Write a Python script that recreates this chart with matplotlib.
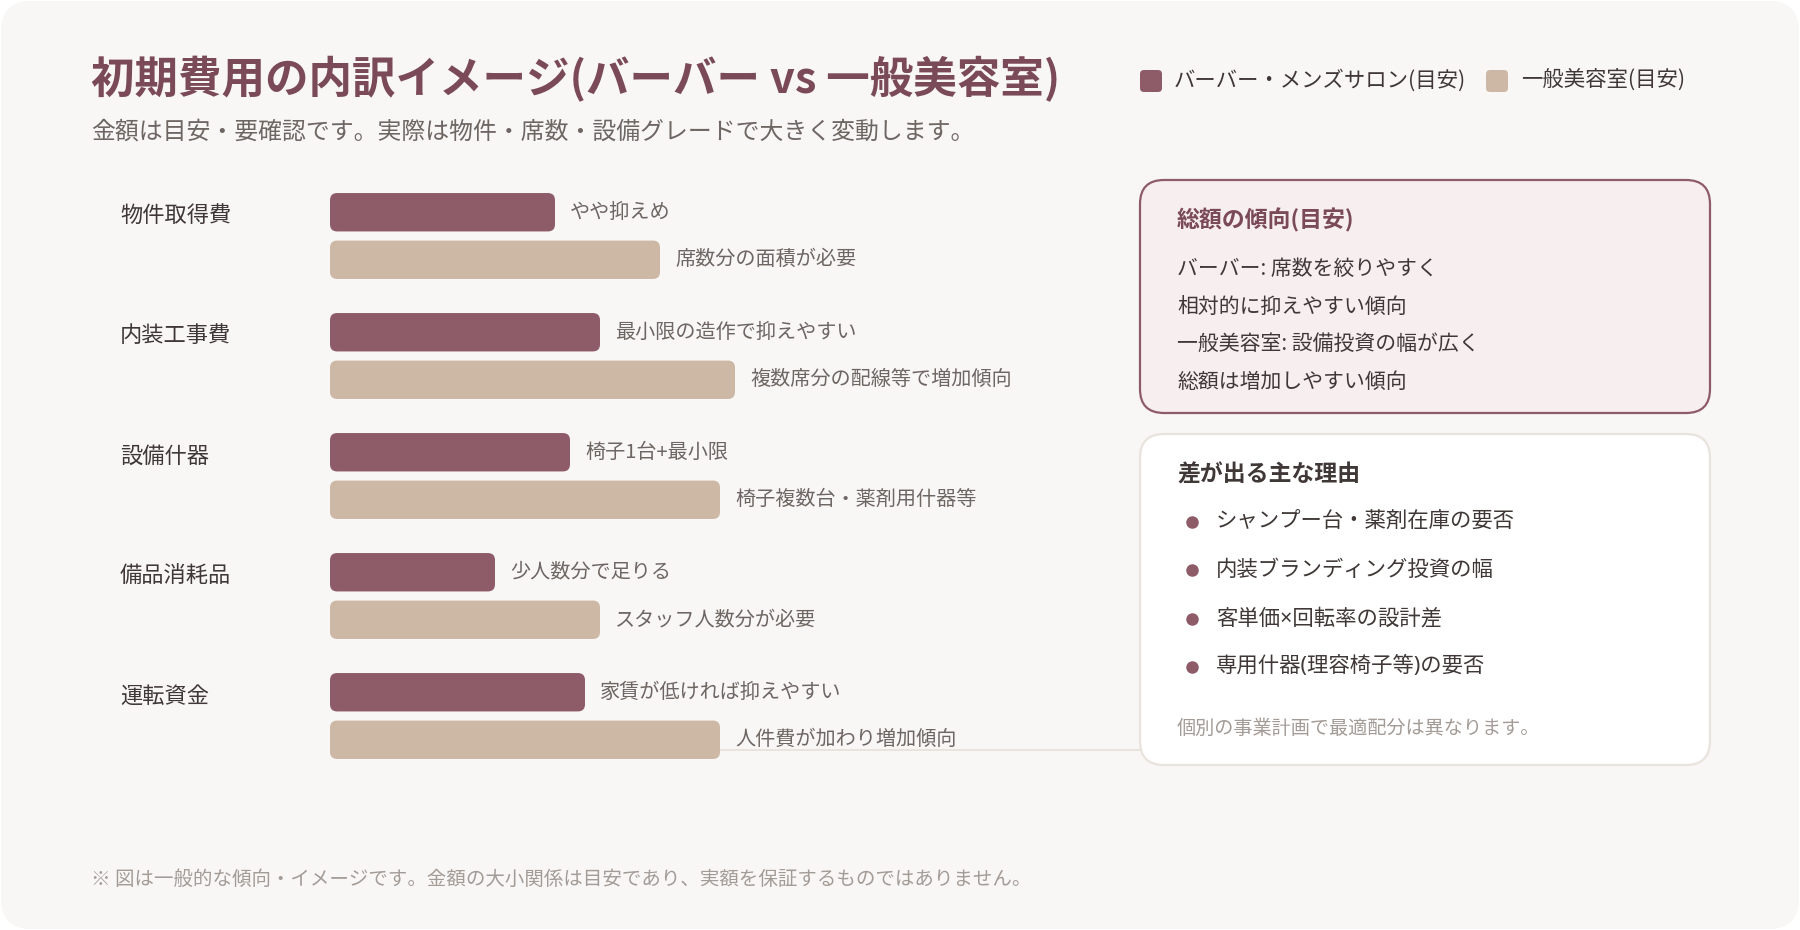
import matplotlib
matplotlib.use("Agg")
import matplotlib.pyplot as plt
from matplotlib.patches import FancyBboxPatch
from matplotlib.lines import Line2D
from matplotlib.transforms import IdentityTransform, blended_transform_factory

plt.rcParams['font.family'] = ['Noto Sans CJK JP', 'DejaVu Sans']

# data
categories = ['物件取得費', '内装工事費', '設備什器', '備品消耗品', '運転資金']
barber = [30, 36, 32, 22, 34]
salon = [44, 54, 52, 36, 52]
barber_notes = ['やや抑えめ', '最小限の造作で抑えやすい', '椅子1台+最小限',
                '少人数分で足りる', '家賃が低ければ抑えやすい']
salon_notes = ['席数分の面積が必要', '複数席分の配線等で増加傾向', '椅子複数台・薬剤用什器等',
               'スタッフ人数分が必要', '人件費が加わり増加傾向']
series = ['バーバー・メンズサロン(目安)', '一般美容室(目安)']

title = '初期費用の内訳イメージ(バーバー vs 一般美容室)'
subtitle = '金額は目安・要確認です。実際は物件・席数・設備グレードで大きく変動します。'
trend_title = '総額の傾向(目安)'
trend_lines = ['バーバー: 席数を絞りやすく', '相対的に抑えやすい傾向',
               '一般美容室: 設備投資の幅が広く', '総額は増加しやすい傾向']
reason_title = '差が出る主な理由'
reasons = ['シャンプー台・薬剤在庫の要否', '内装ブランディング投資の幅',
           '客単価×回転率の設計差', '専用什器(理容椅子等)の要否']
reason_note = '個別の事業計画で最適配分は異なります。'
footnote = '※ 図は一般的な傾向・イメージです。金額の大小関係は目安であり、実額を保証するものではありません。'

c_barber = '#8e5b68'
c_salon = '#cdb8a6'
c_dark = '#3f3836'
c_gray = '#6e6663'
c_light = '#a39b96'
c_title = '#7b4a59'

W, H = 1800, 930
fig = plt.figure(figsize=(18, 9.3), dpi=100)
fig.patch.set_facecolor('white')
px = IdentityTransform()


def fx(x):
    return x / W


def fy(y):
    return 1 - y / H


# card background
fig.add_artist(FancyBboxPatch((1, 1), W - 2, H - 2, boxstyle="round,pad=0,rounding_size=30",
                              transform=px, facecolor='#f8f7f5', edgecolor='none', zorder=-10))

fig.text(fx(91), fy(79), title, fontsize=31.3, fontweight='bold', color=c_title, va='center')
fig.text(fx(91), fy(132), subtitle, fontsize=17.2, color=c_gray, va='center')

# legend
for (x0, tx), name, col in zip([(1140, 1174), (1486, 1521)], series, [c_barber, c_salon]):
    fig.add_artist(FancyBboxPatch((x0, H - 92), 22, 22, boxstyle="round,pad=0,rounding_size=4",
                                  transform=px, facecolor=col, edgecolor='none'))
    fig.text(fx(tx), fy(80), name, fontsize=15.4, color=c_dark, va='center')

# bars: 7.5 px per unit, 120 px per category
ax = fig.add_axes([330 / W, 1 - 776 / H, 750 / W, 600 / H])
ax.set_xlim(0, 100)
ax.set_ylim(4.5, -0.5)
ax.axis('off')

off, bh = 0.198, 0.32
ys = list(range(len(categories)))
b1 = ax.barh([y - off for y in ys], barber, height=bh, left=0)
b2 = ax.barh([y + off for y in ys], salon, height=bh, left=0)
for bars, col in [(b1, c_barber), (b2, c_salon)]:
    for r in bars:
        r.set_visible(False)
        ax.add_patch(FancyBboxPatch((r.get_x(), r.get_y()), r.get_width(), r.get_height(),
                                    boxstyle="round,pad=0,rounding_size=0.95",
                                    mutation_aspect=7.5 / 120, facecolor=col, edgecolor='none'))

for y, v, note in zip(ys, barber, barber_notes):
    ax.annotate(note, (v, y - off), xytext=(15, 0), textcoords='offset pixels',
                fontsize=14.5, color=c_gray, va='center')
for y, v, note in zip(ys, salon, salon_notes):
    ax.annotate(note, (v, y + off), xytext=(15, 0), textcoords='offset pixels',
                fontsize=14.5, color=c_gray, va='center')

tr = blended_transform_factory(fig.transFigure, ax.transData)
for y, cat in zip(ys, categories):
    ax.text(fx(120), y - off + 0.03, cat, transform=tr, fontsize=16, color=c_dark, va='center')

# connector from last bar to the reasons box
x_end, y_end = ax.transData.transform((salon[-1], ys[-1] + off))
fig.add_artist(Line2D([x_end, 1140], [H - 750, H - 750], transform=px, color='#e6dfd9', lw=1.2, zorder=-5))

# trend box
fig.add_artist(FancyBboxPatch((1140, H - 413), 570, 233, boxstyle="round,pad=0,rounding_size=24",
                              transform=px, facecolor='#f7eef0', edgecolor=c_barber, lw=1.6))
fig.text(fx(1177), fy(220), trend_title, fontsize=16.5, fontweight='bold', color=c_title, va='center')
for i, line in enumerate(trend_lines):
    fig.text(fx(1177), fy(269 + i * 37.5), line, fontsize=15, color=c_dark, va='center')

# reasons box
fig.add_artist(FancyBboxPatch((1140, H - 765), 570, 331, boxstyle="round,pad=0,rounding_size=24",
                              transform=px, facecolor='white', edgecolor='#e9e3dd', lw=1.6))
fig.text(fx(1177), fy(475), reason_title, fontsize=16.5, fontweight='bold', color=c_dark, va='center')
for i, line in enumerate(reasons):
    yy = 522 + i * 48.3
    fig.add_artist(Line2D([1192], [H - yy], transform=px, marker='o', markersize=8,
                          color=c_barber, lw=0))
    fig.text(fx(1216), fy(yy), line, fontsize=15.4, color=c_dark, va='center',
             family=['Noto Sans', 'Noto Sans CJK JP'])
fig.text(fx(1177), fy(728), reason_note, fontsize=13.8, color=c_light, va='center')

fig.text(fx(91), fy(879), footnote, fontsize=14, color=c_light, va='center')

fig.savefig('out.png', dpi=100, facecolor=fig.get_facecolor())
